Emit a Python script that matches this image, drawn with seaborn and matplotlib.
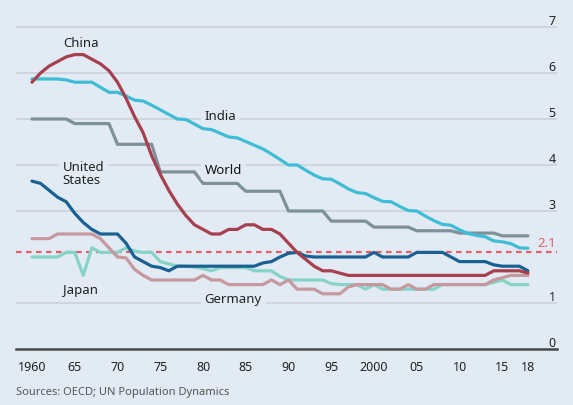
import numpy as np
import pandas as pd
import matplotlib
matplotlib.use('Agg')
import matplotlib.pyplot as plt
import seaborn as sns

years = list(range(1960, 2019))

china = [5.8, 6.0, 6.15, 6.25, 6.35,
         6.4, 6.4, 6.3, 6.2, 6.05,
         5.8, 5.45, 5.05, 4.7, 4.2,
         3.8, 3.45, 3.15, 2.9, 2.7,
         2.6, 2.5, 2.5, 2.6, 2.6,
         2.7, 2.7, 2.6, 2.6, 2.5,
         2.3, 2.1, 1.95, 1.8, 1.7,
         1.7, 1.65, 1.6, 1.6, 1.6,
         1.6, 1.6, 1.6, 1.6, 1.6,
         1.6, 1.6, 1.6, 1.6, 1.6,
         1.6, 1.6, 1.6, 1.6, 1.7,
         1.7, 1.7, 1.7, 1.65]

india = [5.87, 5.87, 5.87, 5.87, 5.85,
         5.8, 5.8, 5.8, 5.69, 5.58,
         5.58, 5.5, 5.41, 5.39, 5.3,
         5.2, 5.1, 5.0, 4.99, 4.89,
         4.79, 4.77, 4.69, 4.61, 4.59,
         4.51, 4.43, 4.35, 4.24, 4.12,
         4.0, 4.0, 3.89, 3.78, 3.7,
         3.69, 3.59, 3.48, 3.4, 3.38,
         3.29, 3.21, 3.2, 3.1, 3.01,
         3.0, 2.89, 2.79, 2.71, 2.69,
         2.59, 2.51, 2.47, 2.44, 2.35,
         2.33, 2.29, 2.2, 2.19]

world = [5.0, 5.0, 5.0, 5.0, 5.0,
         4.9, 4.9, 4.9, 4.9, 4.9,
         4.45, 4.45, 4.45, 4.45, 4.45,
         3.85, 3.85, 3.85, 3.85, 3.85,
         3.6, 3.6, 3.6, 3.6, 3.6,
         3.43, 3.43, 3.43, 3.43, 3.43,
         3.0, 3.0, 3.0, 3.0, 3.0,
         2.78, 2.78, 2.78, 2.78, 2.78,
         2.65, 2.65, 2.65, 2.65, 2.65,
         2.57, 2.57, 2.57, 2.57, 2.57,
         2.52, 2.52, 2.52, 2.52, 2.52,
         2.46, 2.46, 2.46, 2.46]

usa = [3.65, 3.6, 3.45, 3.3, 3.2,
       2.95, 2.75, 2.6, 2.5, 2.5,
       2.5, 2.3, 2.0, 1.9, 1.8,
       1.77, 1.7, 1.8, 1.8, 1.8,
       1.8, 1.8, 1.8, 1.8, 1.8,
       1.8, 1.8, 1.87, 1.9, 2.0,
       2.08, 2.1, 2.02, 2.0, 2.0,
       2.0, 2.0, 2.0, 2.0, 2.0,
       2.1, 2.0, 2.0, 2.0, 2.0,
       2.1, 2.1, 2.1, 2.1, 2.0,
       1.9, 1.9, 1.9, 1.9, 1.83,
       1.8, 1.8, 1.8, 1.7]

japan = [2.0, 2.0, 2.0, 2.0, 2.1,
         2.1, 1.6, 2.2, 2.1, 2.1,
         2.1, 2.2, 2.13, 2.1, 2.1,
         1.9, 1.85, 1.8, 1.8, 1.78,
         1.75, 1.7, 1.77, 1.77, 1.77,
         1.77, 1.7, 1.7, 1.7, 1.58,
         1.5, 1.5, 1.5, 1.5, 1.5,
         1.42, 1.4, 1.4, 1.4, 1.3,
         1.4, 1.3, 1.3, 1.3, 1.3,
         1.3, 1.3, 1.3, 1.4, 1.4,
         1.4, 1.4, 1.4, 1.4, 1.45,
         1.5, 1.4, 1.4, 1.4]

germany = [2.4, 2.4, 2.4, 2.5, 2.5,
           2.5, 2.5, 2.5, 2.4, 2.2,
           2.0, 1.98, 1.73, 1.6, 1.5,
           1.5, 1.5, 1.5, 1.5, 1.5,
           1.6, 1.5, 1.5, 1.4, 1.4,
           1.4, 1.4, 1.4, 1.5, 1.4,
           1.5, 1.3, 1.3, 1.3, 1.2,
           1.2, 1.2, 1.35, 1.4, 1.4,
           1.4, 1.4, 1.3, 1.3, 1.4,
           1.3, 1.3, 1.4, 1.4, 1.4,
           1.4, 1.4, 1.4, 1.4, 1.5,
           1.55, 1.6, 1.6, 1.6]

replacement = 2.1
x_ticks = [1960, 1965, 1970, 1975, 1980, 1985, 1990, 1995, 2000, 2005, 2010, 2015, 2018]
x_labels = ['1960', '65', '70', '75', '80', '85', '90', '95', '2000', '05', '10', '15', '18']
# no gridline at 2: the 2.1 replacement line takes its place
y_ticks = [0, 1, 3, 4, 5, 6, 7]

bg = '#e2ebf3'
colors = {
    'Japan': '#86d3c9',
    'Germany': '#c7989e',
    'World': '#7e9099',
    'India': '#3fbcd6',
    'United States': '#1a6193',
    'China': '#a6404f',
}
order = ['Japan', 'Germany', 'World', 'India', 'United States', 'China']

df = pd.DataFrame({'year': years, 'China': china, 'India': india, 'World': world,
                   'United States': usa, 'Japan': japan, 'Germany': germany})
df = df.melt('year', var_name='country', value_name='tfr')

sns.set_style('white')
plt.rcParams['font.family'] = ['Noto Sans', 'DejaVu Sans']

fig = plt.figure(figsize=(5.73, 4.06), dpi=100)
fig.patch.set_facecolor(bg)
ax = fig.add_axes([16 / 573, 1 - 350 / 406, 541 / 573, 345 / 406])
ax.set_facecolor(bg)

ax.axhline(replacement, color='#e0606a', lw=1.6, ls=(0, (2.5, 2)), zorder=1.5)

sns.lineplot(data=df, x='year', y='tfr', hue='country', hue_order=order,
             palette=colors, linewidth=2.3, legend=False, ax=ax, zorder=2)

ax.set_xlim(1958.13, 2021.4)
ax.set_ylim(0, 7.5)
ax.set_xlabel('')
ax.set_ylabel('')

ax.set_yticks(y_ticks)
ax.yaxis.tick_right()
ax.grid(axis='y', color='#c8cfd6', lw=1.1, zorder=0)
ax.grid(axis='x', visible=False)
ax.tick_params(axis='y', length=0, pad=-1, labelsize=9, labelcolor='#222222')
for t in ax.get_yticklabels():
    t.set_horizontalalignment('right')
    t.set_verticalalignment('bottom')

ax.set_xticks(x_ticks)
ax.set_xticklabels(x_labels)
ax.tick_params(axis='x', direction='out', length=5, width=1.2, color='#444444',
               pad=3, labelsize=9, labelcolor='#222222')

for side in ['top', 'left', 'right']:
    ax.spines[side].set_visible(False)
ax.spines['bottom'].set_color('#4a4a4a')
ax.spines['bottom'].set_linewidth(1.8)
ax.spines['bottom'].set_zorder(3)

box = dict(boxstyle='square,pad=0.3', fc=bg, ec='none')
ax.text(1963.6, 6.67, 'China', fontsize=9.5, va='center', color='#222222')
ax.text(1980.2, 5.07, 'India', fontsize=9.5, va='center', color='#222222', bbox=box)
ax.text(1980.2, 3.91, 'World', fontsize=9.5, va='center', weight='bold', color='#111111', bbox=box)
ax.text(1963.6, 3.83, 'United\nStates', fontsize=9.5, va='center', linespacing=1.0,
        color='#222222', bbox=box)
ax.text(1963.6, 1.30, 'Japan', fontsize=9.5, va='center', color='#222222')
ax.text(1980.2, 1.09, 'Germany', fontsize=9.5, va='center', color='#222222', bbox=box)
ax.text(2021.3, replacement + 0.07, '2.1', fontsize=9.5, ha='right', va='bottom', color='#e0606a')

fig.text(16 / 573, 1 - 393 / 406, 'Sources: OECD; UN Population Dynamics',
         fontsize=8, color='#555555', va='center')

fig.savefig('out.png', dpi=100, facecolor=bg)
